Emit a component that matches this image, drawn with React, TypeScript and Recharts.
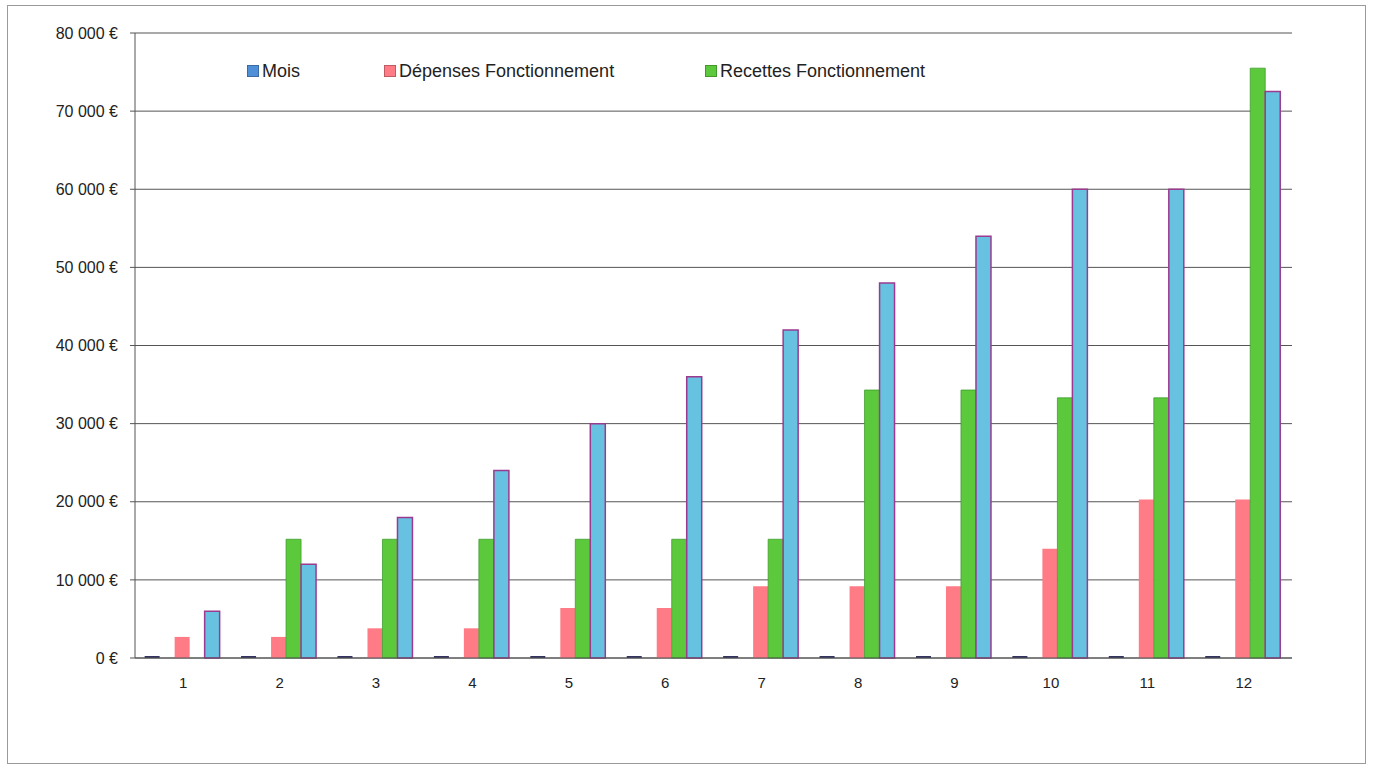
import React from "react";
import { BarChart, Bar, XAxis, YAxis, CartesianGrid } from "recharts";

const months = [1, 2, 3, 4, 5, 6, 7, 8, 9, 10, 11, 12];
const depenses = [2700, 2700, 3800, 3800, 6400, 6400, 9200, 9200, 9200, 14000, 20300, 20300];
const recettes = [0, 15200, 15200, 15200, 15200, 15200, 15200, 34300, 34300, 33300, 33300, 75500];
const cumul = [6000, 12000, 18000, 24000, 30000, 36000, 42000, 48000, 54000, 60000, 60000, 72500];
const yTicks = [0, 10000, 20000, 30000, 40000, 50000, 60000, 70000, 80000];

const legendItems = [
  { label: "Mois", color: "#4f8fd8", left: 247 },
  { label: "Dépenses Fonctionnement", color: "#ff7b85", left: 384 },
  { label: "Recettes Fonctionnement", color: "#5cc83c", left: 705 },
];

const data = months.map((m, i) => ({
  name: String(m),
  mois: m,
  depenses: depenses[i],
  recettes: recettes[i],
  cumul: cumul[i],
}));

const fmt = (v: number) => {
  if (v === 0) return "0\u00a0€";
  const s = String(v);
  return s.slice(0, s.length - 3) + "\u00a0" + s.slice(s.length - 3) + "\u00a0€";
};

const font = "Liberation Sans, Arial, sans-serif";

export default function App() {
  return (
    <div style={{ position: "absolute", left: 0, top: 0, width: 1377, height: 767, background: "#fff" }}>
      <div
        style={{
          position: "absolute",
          left: 7,
          top: 5,
          width: 1359,
          height: 759,
          border: "1px solid #9a9a9a",
          boxSizing: "border-box",
        }}
      />
      <div style={{ position: "absolute", left: 0, top: 0 }}>
        <BarChart
          width={1377}
          height={767}
          data={data}
          margin={{ top: 33, right: 85, bottom: 79, left: 0 }}
          barCategoryGap="10%"
          barGap={0}
        >
          <CartesianGrid vertical={false} stroke="#555" strokeWidth={1} />
          <XAxis
            dataKey="name"
            height={30}
            tickLine={false}
            tickSize={0}
            tickMargin={19}
            axisLine={{ stroke: "#555" }}
            tick={{ fill: "#222", fontSize: 15, fontFamily: font }}
          />
          <YAxis
            width={135}
            domain={[0, 80000]}
            ticks={yTicks}
            interval={0}
            tickSize={5}
            tickMargin={12}
            tickLine={{ stroke: "#555" }}
            axisLine={{ stroke: "#555" }}
            tickFormatter={fmt}
            tick={{ fill: "#222", fontSize: 16, fontFamily: font }}
          />
          <Bar dataKey="mois" fill="#33335f" minPointSize={2} isAnimationActive={false} />
          <Bar dataKey="vide" fill="#ffffff" isAnimationActive={false} />
          <Bar dataKey="depenses" fill="#ff7b85" isAnimationActive={false} />
          <Bar dataKey="recettes" fill="#5cc83c" stroke="#3f9e2e" strokeWidth={0.8} isAnimationActive={false} />
          <Bar dataKey="cumul" fill="#66c2e0" stroke="#9b3a8e" strokeWidth={1.5} isAnimationActive={false} />
        </BarChart>
      </div>
      {legendItems.map((it) => (
        <div
          key={it.label}
          style={{
            position: "absolute",
            left: it.left,
            top: 60,
            display: "flex",
            alignItems: "center",
            fontFamily: font,
            fontSize: 18,
            lineHeight: "22px",
            color: "#222",
            whiteSpace: "nowrap",
          }}
        >
          <span
            style={{
              display: "inline-block",
              width: 10,
              height: 10,
              background: it.color,
              border: "1px solid rgba(0,0,0,0.25)",
              marginRight: 3,
            }}
          />
          {it.label}
        </div>
      ))}
    </div>
  );
}
